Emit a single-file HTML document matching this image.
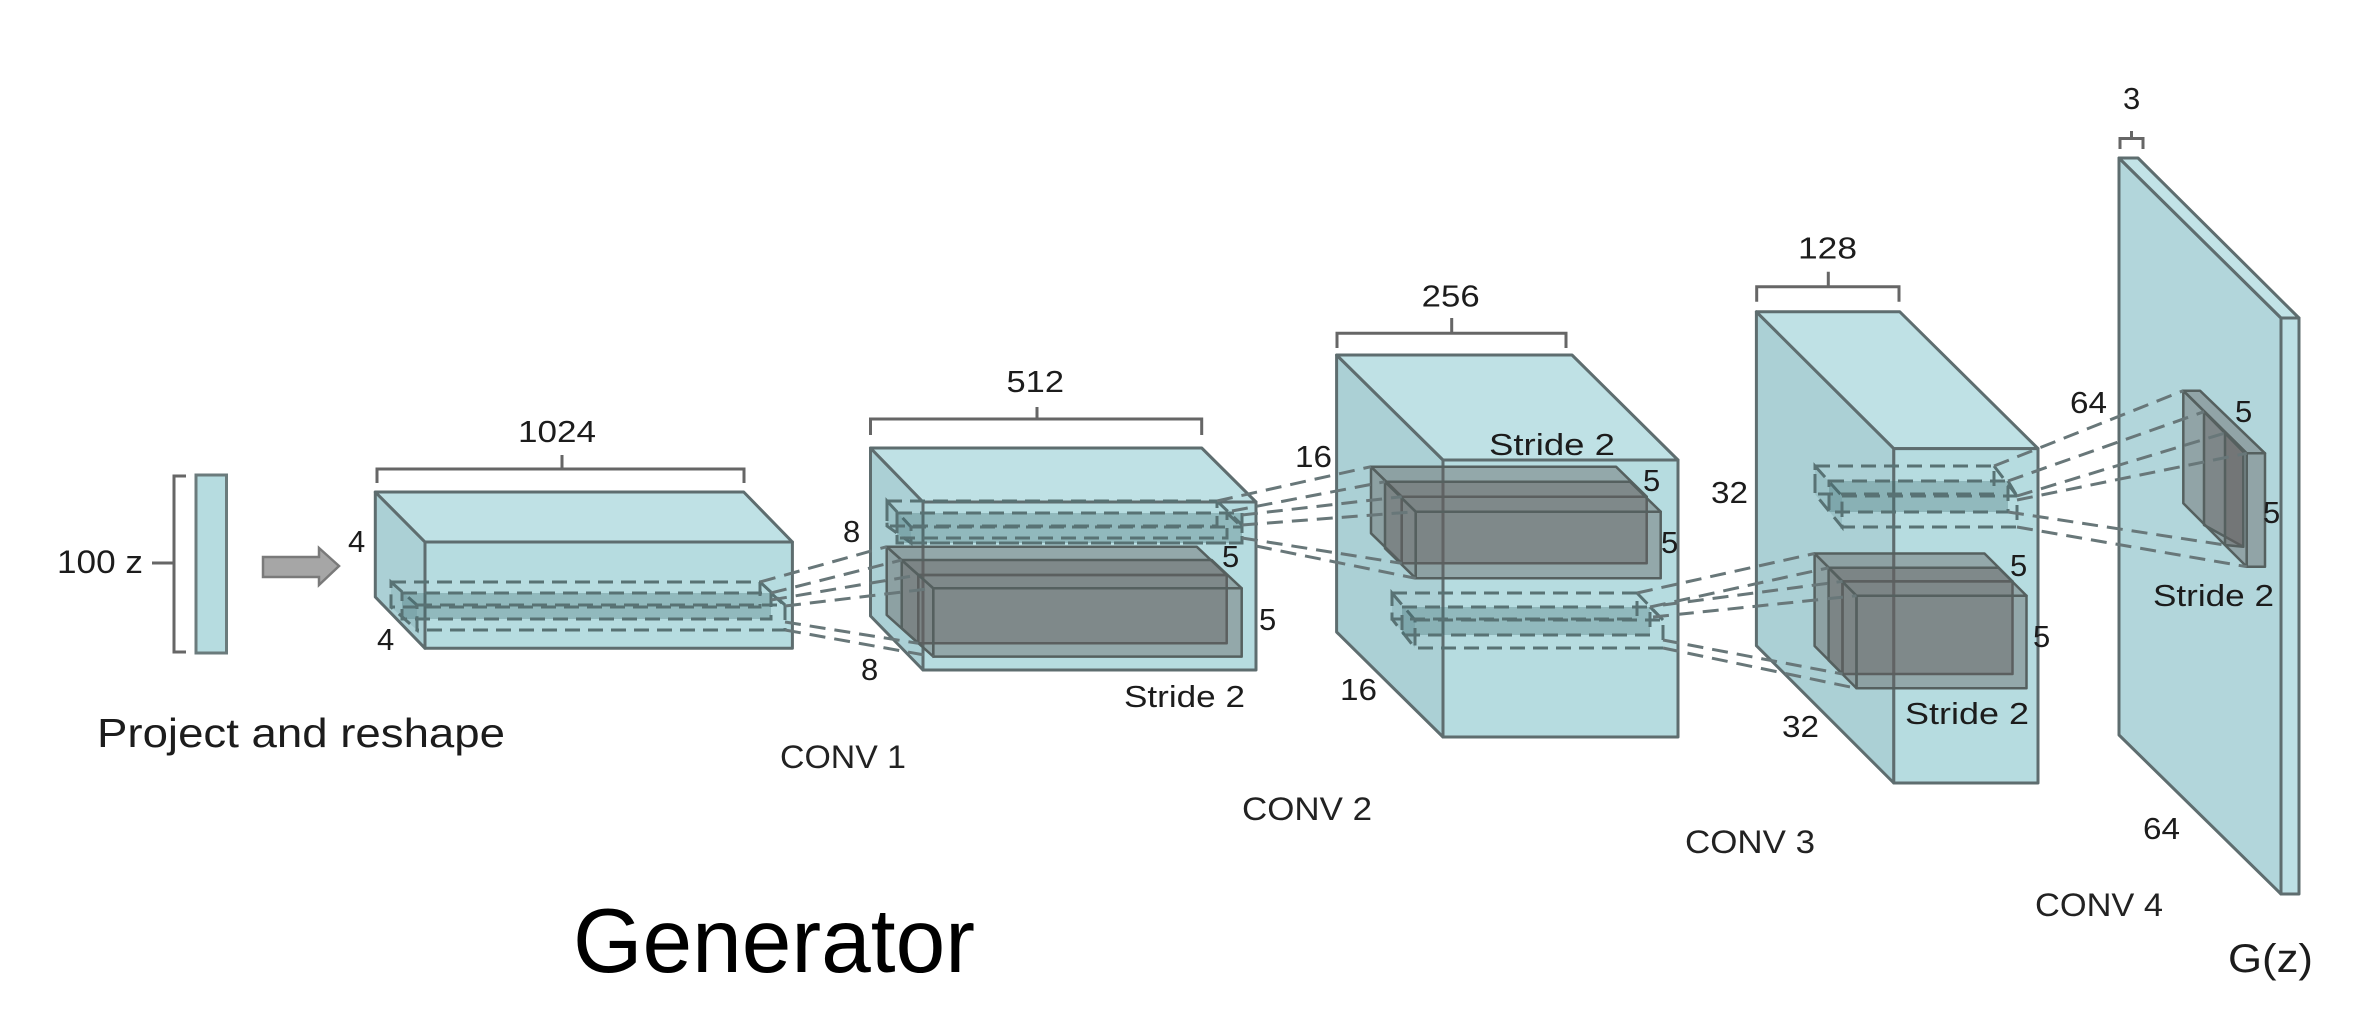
<!DOCTYPE html>
<html><head><meta charset="utf-8"><style>
html,body{margin:0;padding:0;background:#fff;}
svg{display:block;}
text{font-family:"Liberation Sans",Arial,sans-serif;fill:#1c1c1c;}
</style></head><body>
<svg width="2370" height="1022" viewBox="0 0 2370 1022" xmlns="http://www.w3.org/2000/svg">
<rect width="2370" height="1022" fill="#fff"/>

<!-- input vector -->
<g stroke="#666" stroke-width="3" fill="none">
  <path d="M186,476 L174,476 L174,652 L186,652"/>
  <path d="M152,563 L174,563"/>
  <!-- brackets -->
  <path d="M377,483 L377,469 L744,469 L744,483 M562,469 L562,455"/>
  <path d="M870.5,435 L870.5,419 L1201.7,419 L1201.7,435 M1037,419 L1037,407"/>
  <path d="M1337,348 L1337,333.3 L1566,333.3 L1566,348 M1451.7,333.3 L1451.7,318"/>
  <path d="M1756.7,301.7 L1756.7,286.7 L1899,286.7 L1899,301.7 M1828.3,286.7 L1828.3,271.7"/>
  <path d="M2120,149 L2120,138.5 L2143,138.5 L2143,149 M2131.5,138.5 L2131.5,131"/>
</g>
<rect x="196" y="475" width="30.5" height="178" fill="#b6dce0" stroke="#6b7b7c" stroke-width="3"/>
<polygon points="263,557 319,557 319,548 339,566 319,585 319,577 263,577" fill="#a6a6a6" stroke="#7a7a7a" stroke-width="2.5"/>

<g stroke="#5e6d6f" stroke-width="3" stroke-linejoin="round">
  <!-- block 1 -->
  <polygon points="375.3,492 425,542 425,648.3 375.3,597" fill="#abd0d5"/>
  <polygon points="375.3,492 743.7,492 792.4,542 425,542" fill="#bfe1e5"/>
  <rect x="425" y="542" width="367.4" height="106.3" fill="#b6dce0"/>
  <!-- block 2 -->
  <polygon points="870.5,448 923,502 923,670 870.5,616" fill="#abd0d5"/>
  <polygon points="870.5,448 1201.7,448 1256,502 923,502" fill="#bfe1e5"/>
  <rect x="923" y="502" width="333" height="168" fill="#b6dce0"/>
  <!-- block 3 -->
  <polygon points="1336.6,355 1443,460 1443,737 1336.6,632" fill="#abd0d5"/>
  <polygon points="1336.6,355 1572,355 1678,460 1443,460" fill="#bfe1e5"/>
  <rect x="1443" y="460" width="235" height="277" fill="#b6dce0"/>
  <!-- block 4 -->
  <polygon points="1756.4,311.8 1893.8,448.6 1893.8,783 1756.4,645.7" fill="#abd0d5"/>
  <polygon points="1756.4,311.8 1899.8,311.8 2038,448.6 1893.8,448.6" fill="#bfe1e5"/>
  <rect x="1893.8" y="448.6" width="144.2" height="334.4" fill="#b6dce0"/>
  <!-- block 5 -->
  <polygon points="2119,158 2281,318 2281,894 2119,735" fill="#b2d6db"/>
  <polygon points="2119,158 2138,158 2299,318 2281,318" fill="#c2e3e7"/>
  <rect x="2281" y="318" width="18" height="576" fill="#bde0e5"/>
</g>

<!-- solid kernel boxes -->
<g stroke="#55605f" stroke-width="2.5" fill="rgb(100,96,96)" fill-opacity="0.42" stroke-linejoin="round">
  <!-- block 2 lower -->
  <polygon points="886.7,546.7 918.3,575 918.3,643.3 886.7,615"/>
  <polygon points="886.7,546.7 1196.7,546.7 1226.7,575 918.3,575"/>
  <rect x="918.3" y="575" width="308.4" height="68.3"/>
  <polygon points="901.7,560 933.3,588.3 933.3,656.6 901.7,628.3"/>
  <polygon points="901.7,560 1211.7,560 1241.7,588.3 933.3,588.3"/>
  <rect x="933.3" y="588.3" width="308.4" height="68.3"/>
  <!-- block 3 upper -->
  <polygon points="1371,466.7 1401.7,496.7 1401.7,563.3 1371,533.3"/>
  <polygon points="1371,466.7 1616,466.7 1646.7,496.7 1401.7,496.7"/>
  <rect x="1401.7" y="496.7" width="245" height="66.6"/>
  <polygon points="1385,481.7 1415.7,511.7 1415.7,578.3 1385,548.3"/>
  <polygon points="1385,481.7 1630,481.7 1660.7,511.7 1415.7,511.7"/>
  <rect x="1415.7" y="511.7" width="245" height="66.6"/>
  <!-- block 4 lower -->
  <polygon points="1814.6,553.5 1842.5,581.4 1842.5,674 1814.6,646"/>
  <polygon points="1814.6,553.5 1984.5,553.5 2012.5,581.4 1842.5,581.4"/>
  <rect x="1842.5" y="581.4" width="170" height="92.6"/>
  <polygon points="1828.6,567.8 1856.5,595.7 1856.5,688.3 1828.6,660.3"/>
  <polygon points="1828.6,567.8 1998.5,567.8 2026.5,595.7 1856.5,595.7"/>
  <rect x="1856.5" y="595.7" width="170" height="92.6"/>
  <!-- block 5 kernel -->
  <polygon points="2183.3,390.7 2246.7,453.3 2246.7,566.7 2183.3,503.3"/>
  <polygon points="2183.3,390.7 2200,390.7 2265,453.3 2246.7,453.3"/>
  <rect x="2246.7" y="453.3" width="18.3" height="113.4"/>
  <polygon points="2204,411.7 2243.3,451.7 2243.3,546.7 2204,525"/>
  <polygon points="2225,433 2243.3,451.7 2243.3,546.7 2225,545"/>
</g>

<!-- dashed kernel cuboids -->
<g stroke="#587274" stroke-width="3" stroke-dasharray="15 8" fill="none">
  <!-- block 1 -->
  <polygon points="391,582 417,605 417,630 391,607" fill="rgba(70,115,120,0.15)"/>
  <rect x="402" y="593" width="369" height="26" fill="rgba(60,105,110,0.3)"/>
  <rect x="391" y="582" width="369" height="25"/>
  <rect x="417" y="605" width="368" height="25"/>
  <path d="M760,582 L785,605 M771,593 L785,606"/>
  <!-- block 2 upper -->
  <polygon points="887,501 911,527 911,543 887,526" fill="rgba(70,115,120,0.15)"/>
  <rect x="897" y="513" width="345" height="30" fill="rgba(60,105,110,0.3)"/>
  <rect x="887" y="501" width="330" height="25"/>
  <rect x="897" y="513" width="330" height="25"/>
  <rect x="911" y="527" width="331" height="16"/>
  <path d="M1217,501 L1242,525 M1227,513 L1242,527"/>
  <!-- block 3 lower -->
  <polygon points="1392,593 1415,620 1415,648 1392,619" fill="rgba(70,115,120,0.15)"/>
  <rect x="1402" y="607" width="248" height="28" fill="rgba(60,105,110,0.3)"/>
  <rect x="1392" y="593" width="245" height="26"/>
  <rect x="1415" y="620" width="248" height="28"/>
  <path d="M1637,593 L1663,620 M1650,607 L1663,620"/>
  <!-- block 4 upper -->
  <polygon points="1815,466 1842,496 1842,527 1815,494" fill="rgba(70,115,120,0.15)"/>
  <rect x="1829" y="481" width="179" height="31" fill="rgba(60,105,110,0.3)"/>
  <rect x="1815" y="466" width="179" height="28"/>
  <rect x="1842" y="496" width="175" height="31"/>
  <path d="M1994,466 L2017,496 M2008,481 L2017,496"/>
</g>

<!-- connectors -->
<g stroke="#687779" stroke-width="3" stroke-dasharray="16 9" fill="none">
  <path d="M760,582 L886.7,546.7 M771,593 L901.7,560 M771,600 L918.3,575 M785,606 L933.3,588.3 M785,622 L918.3,643.3 M785,630 L933.3,656.6"/>
  <path d="M1217,501 L1371,466.7 M1232,511 L1385,481.7 M1242,515 L1401.7,496.7 M1242,525 L1415.7,511.7 M1242,538 L1401.7,563.3 M1256,546 L1415.7,578.3"/>
  <path d="M1637,593 L1814.6,553.5 M1650,607 L1828.6,567.8 M1663,605 L1842.5,581.4 M1653,617 L1856.5,595.7 M1663,640 L1842.5,674 M1663,648 L1856.5,688.3"/>
  <path d="M1994,466 L2183.3,390.7 M2008,481 L2204,411.7 M2017,496 L2225,433 M2017,500 L2246.7,453.3 M2008,512 L2225,545 M2017,527 L2246.7,566.7"/>
</g>

<!-- labels -->
<g font-size="31">
  <text x="57" y="573" font-size="32" textLength="86" lengthAdjust="spacingAndGlyphs">100 z</text>
  <text x="518" y="442" textLength="78" lengthAdjust="spacingAndGlyphs">1024</text>
  <text x="348" y="552">4</text>
  <text x="377" y="650">4</text>
  <text x="1006.5" y="392" textLength="57.5" lengthAdjust="spacingAndGlyphs">512</text>
  <text x="843" y="542">8</text>
  <text x="861" y="680">8</text>
  <text x="1222" y="567">5</text>
  <text x="1259" y="630">5</text>
  <text x="1124" y="707" textLength="121" lengthAdjust="spacingAndGlyphs">Stride 2</text>
  <text x="1421.7" y="306.7" textLength="58" lengthAdjust="spacingAndGlyphs">256</text>
  <text x="1295" y="467" textLength="37" lengthAdjust="spacingAndGlyphs">16</text>
  <text x="1340" y="700" textLength="37" lengthAdjust="spacingAndGlyphs">16</text>
  <text x="1489" y="455" textLength="126" lengthAdjust="spacingAndGlyphs">Stride 2</text>
  <text x="1643" y="491">5</text>
  <text x="1661" y="553">5</text>
  <text x="1798" y="258.3" textLength="59" lengthAdjust="spacingAndGlyphs">128</text>
  <text x="1711" y="503" textLength="37" lengthAdjust="spacingAndGlyphs">32</text>
  <text x="1782" y="737" textLength="37" lengthAdjust="spacingAndGlyphs">32</text>
  <text x="1905" y="724" textLength="124" lengthAdjust="spacingAndGlyphs">Stride 2</text>
  <text x="2010" y="576">5</text>
  <text x="2033" y="647">5</text>
  <text x="2123" y="109">3</text>
  <text x="2070" y="413" textLength="37" lengthAdjust="spacingAndGlyphs">64</text>
  <text x="2143" y="839" textLength="37" lengthAdjust="spacingAndGlyphs">64</text>
  <text x="2235" y="422">5</text>
  <text x="2263" y="523">5</text>
  <text x="2153" y="606" textLength="121" lengthAdjust="spacingAndGlyphs">Stride 2</text>
</g>
<g font-size="32">
  <text x="780" y="768" textLength="126" lengthAdjust="spacingAndGlyphs" style="fill:#222">CONV 1</text>
  <text x="1242" y="820" textLength="130" lengthAdjust="spacingAndGlyphs" style="fill:#222">CONV 2</text>
  <text x="1685" y="853" textLength="130" lengthAdjust="spacingAndGlyphs" style="fill:#222">CONV 3</text>
  <text x="2035" y="916" textLength="128" lengthAdjust="spacingAndGlyphs" style="fill:#222">CONV 4</text>
</g>
<text x="2228" y="972" font-size="40" textLength="85" lengthAdjust="spacingAndGlyphs">G(z)</text>
<text x="97" y="747" font-size="41" textLength="408" lengthAdjust="spacingAndGlyphs">Project and reshape</text>
<text x="573" y="972" font-size="91" textLength="402" lengthAdjust="spacingAndGlyphs" style="fill:#000">Generator</text>
</svg>
</body></html>
